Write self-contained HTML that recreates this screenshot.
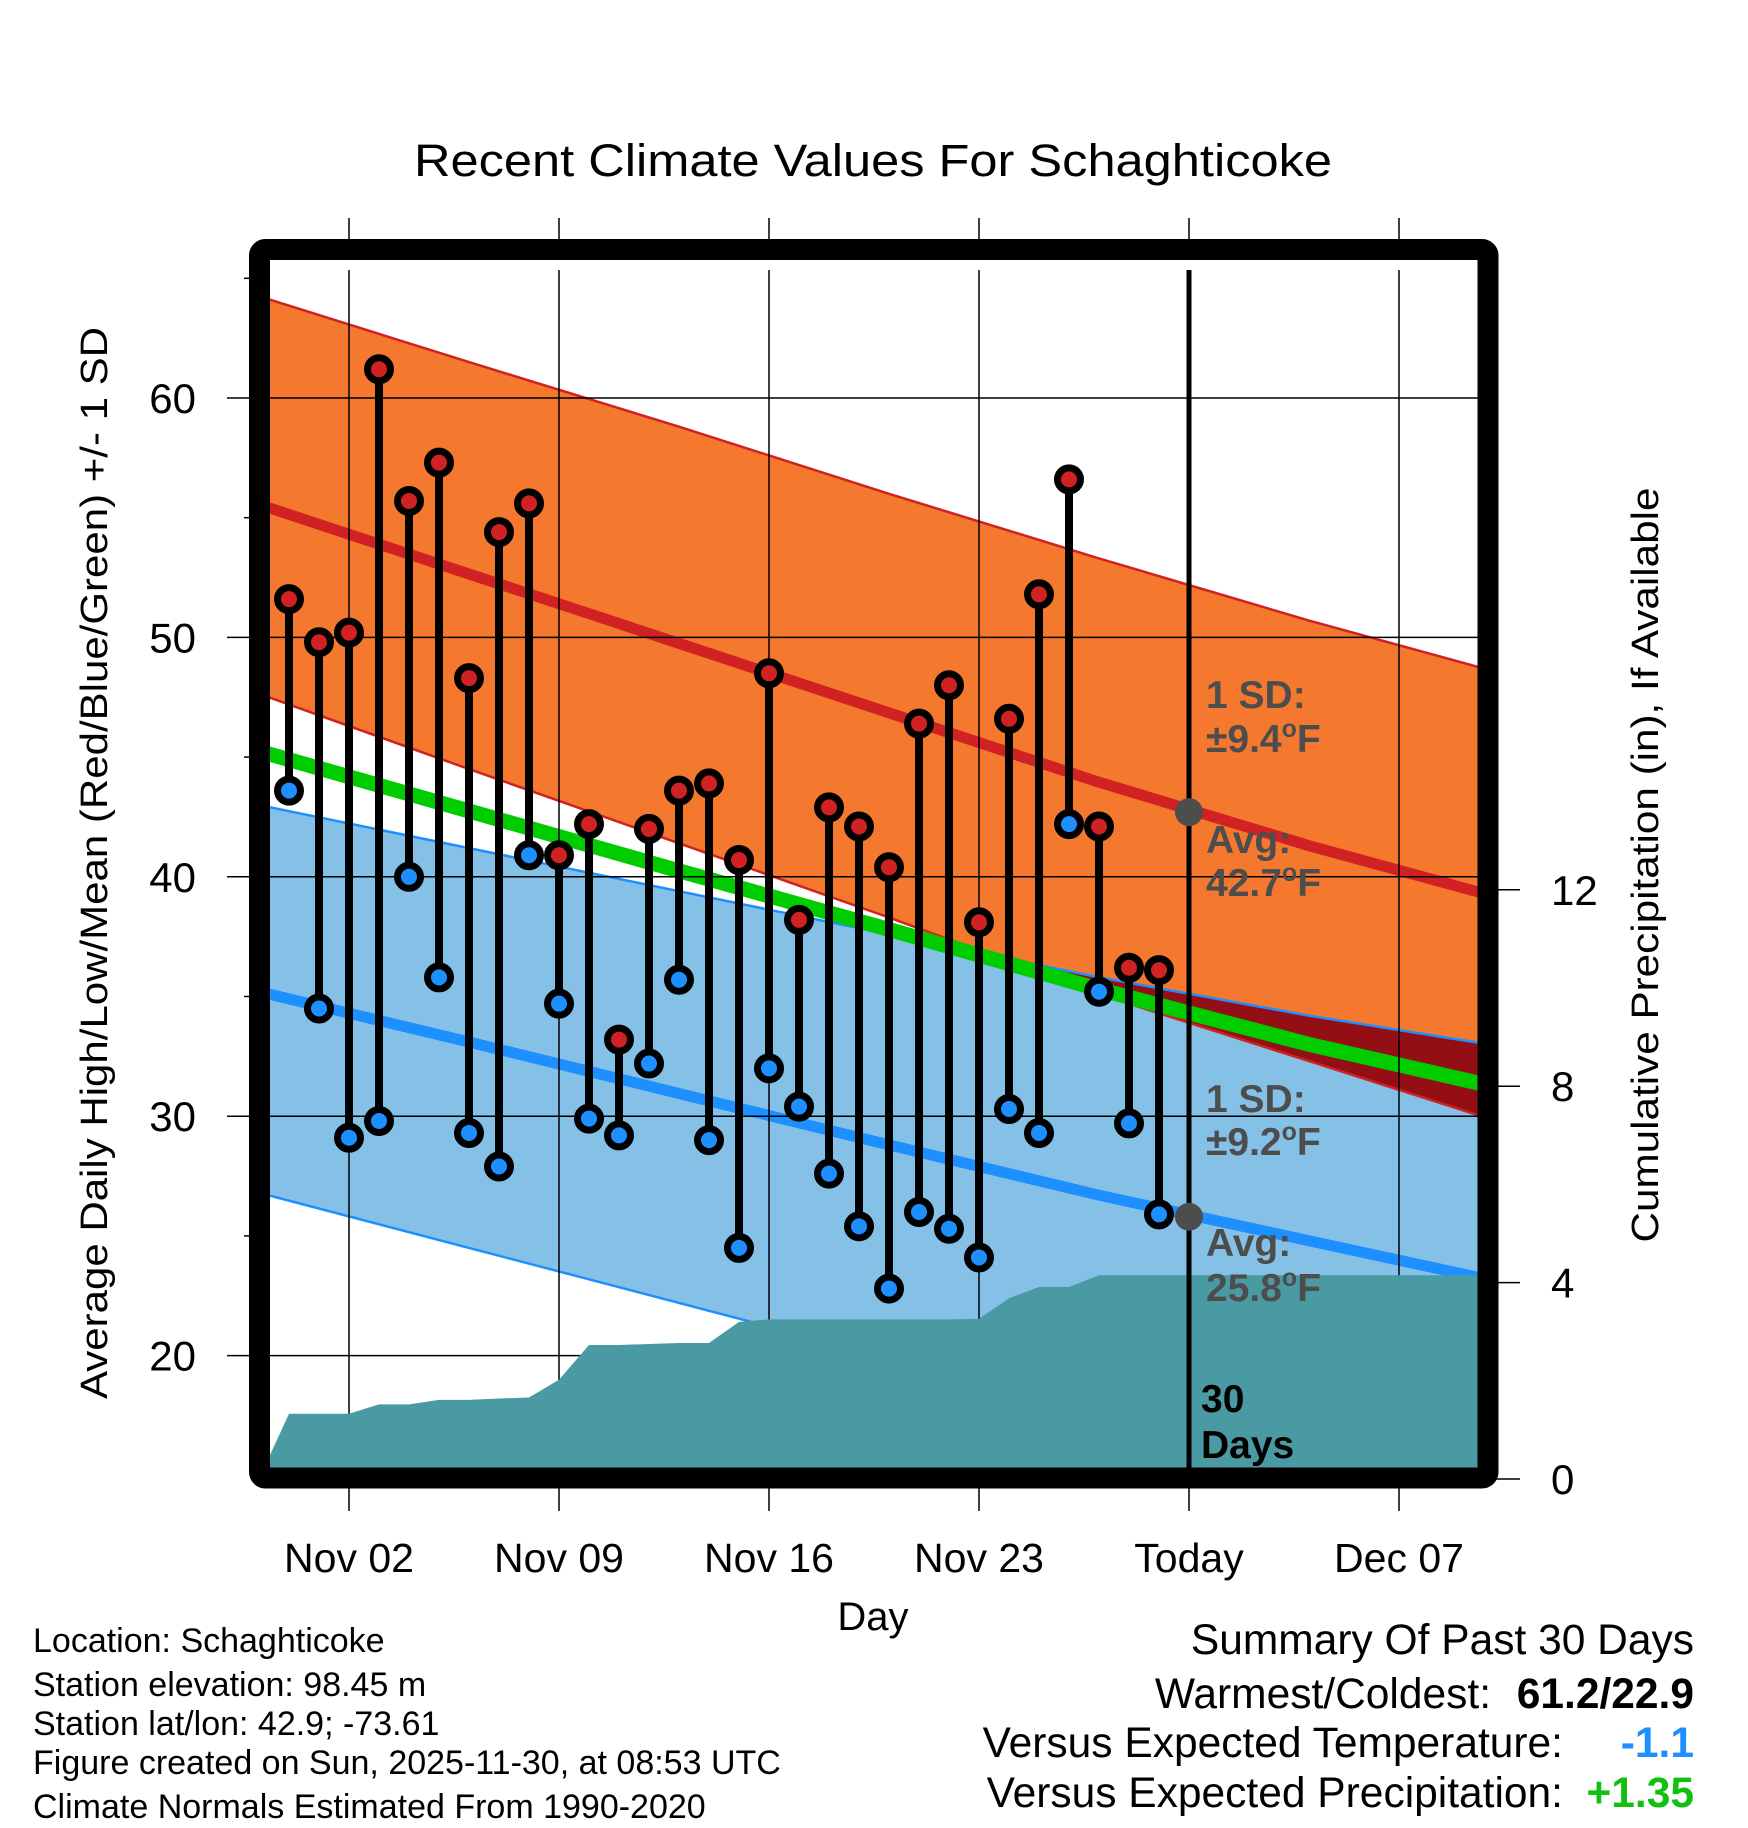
<!DOCTYPE html>
<html><head><meta charset="utf-8">
<style>
html,body{margin:0;padding:0;background:#fff;}
svg{display:block;font-family:"Liberation Sans",Arial,sans-serif;}
</style></head>
<body>
<svg id="chart" width="1748" height="1828" viewBox="0 0 1748 1828" xmlns="http://www.w3.org/2000/svg">
<defs><clipPath id="plotclip"><rect x="270" y="270" width="1209" height="1199"/></clipPath></defs>
<text x="873" y="176" font-size="45" text-anchor="middle" textLength="918" lengthAdjust="spacingAndGlyphs">Recent Climate Values For Schaghticoke</text>
<g id="plot" clip-path="url(#plotclip)"></g>
<g id="axes"></g>
<text transform="translate(107,863) rotate(-90)" font-size="38" text-anchor="middle" textLength="1072" lengthAdjust="spacingAndGlyphs">Average Daily High/Low/Mean (Red/Blue/Green) +/- 1 SD</text>
<text transform="translate(1658,865) rotate(-90)" font-size="38" text-anchor="middle" textLength="755" lengthAdjust="spacingAndGlyphs">Cumulative Precipitation (in), If Available</text>
<text x="873" y="1630" font-size="40" text-anchor="middle">Day</text>
<g font-size="34">
<text x="33" y="1652">Location: Schaghticoke</text>
<text x="33" y="1696">Station elevation: 98.45 m</text>
<text x="33" y="1735">Station lat/lon: 42.9; -73.61</text>
<text x="33" y="1774">Figure created on Sun, 2025-11-30, at 08:53 UTC</text>
<text x="33" y="1818">Climate Normals Estimated From 1990-2020</text>
</g>
<g font-size="42.5" text-anchor="end">
<text x="1694" y="1654">Summary Of Past 30 Days</text>
<text x="1491" y="1708">Warmest/Coldest:</text>
<text x="1694" y="1708" font-weight="bold">61.2/22.9</text>
<text x="1563" y="1757">Versus Expected Temperature:</text>
<text x="1694" y="1757" font-weight="bold" fill="#1e8fff">-1.1</text>
<text x="1563" y="1807">Versus Expected Precipitation:</text>
<text x="1694" y="1807" font-weight="bold" fill="#11c011">+1.35</text>
</g>
</svg>
<script>
// ---- data ----
const obsDays = [-1,0,1,2,3,4,5,6,7,8,9,10,11,12,13,14,15,16,17,18,19,20,21,22,23,24,25,26,27,28]; // days from Nov 1
const highs = [51.6,49.8,50.2,61.2,55.7,57.3,48.3,54.4,55.6,40.9,42.2,33.2,42.0,43.6,43.9,40.7,48.5,38.2,42.9,42.1,40.4,46.4,48.0,38.1,46.6,51.8,56.6,42.1,36.2,36.1];
const lows  = [43.6,34.5,29.1,29.8,40.0,35.8,29.3,27.9,40.9,34.7,29.9,29.2,32.2,35.7,29.0,24.5,32.0,30.4,27.6,25.4,22.8,26.0,25.3,24.1,30.3,29.3,42.2,35.2,29.7,25.9];
const precipDays = [-2,-1,0,1,2,3,4,5,6,7,8,9,10,11,12,13,14,15,16,17,18,19,20,21,22,23,24,25,26,27,28,41];
const precip = [0,1.33,1.33,1.33,1.52,1.52,1.61,1.61,1.64,1.66,2.02,2.73,2.73,2.75,2.77,2.77,3.2,3.25,3.25,3.25,3.25,3.25,3.25,3.25,3.26,3.68,3.91,3.91,4.15,4.15,4.15,4.15];
const normDays = [-2,5,12,19,26,33,40];
const hiAvg   = [55.55,52.65,49.75,46.85,43.95,41.3,38.9];
const hiPlus  = [64.25,61.5,58.8,56.0,53.3,50.7,48.3];
const hiMinus = [47.65,44.5,41.4,38.3,35.1,32.3,29.5];
const loAvg   = [35.2,33.1,30.95,28.8,26.7,24.8,22.9];
const loPlus  = [43.0,41.2,39.4,37.6,35.8,34.2,32.8];
const loMinus = [26.8,24.5,22.2,19.9,17.6,15.6,13.8];
const meanAvg = [45.25,42.75,40.25,37.8,35.3,33.0,31.0];
const xTickDays = [1,8,15,22,29,36];
const xTickLabels = ["Nov 02","Nov 09","Nov 16","Nov 23","Today","Dec 07"];
const yTicks = [20,30,40,50,60];
const yMinor = [25,35,45,55,65];
const y2Ticks = [0,4,8,12];
const todayDay = 29;
const todayHi = 42.7, todayLo = 25.8;

// ---- scales ----
const X0 = 349 - 30; // Nov 1
const xs = d => X0 + d*30;
const ys = v => 398 + (60 - v)*23.94;
const yp = p => 1479 - p*49.1;
const NS = "http://www.w3.org/2000/svg";
function mk(tag, attrs, parent){const e=document.createElementNS(NS,tag);for(const k in attrs)e.setAttribute(k,attrs[k]);parent.appendChild(e);return e;}
const plot = document.getElementById('plot');
const axes = document.getElementById('axes');
const pts = (days, vals) => days.map((d,i)=>xs(d).toFixed(1)+','+ys(vals[i]).toFixed(1));

// bands
let el = mk('polygon',{points:pts(normDays,hiPlus).concat(pts(normDays,hiMinus).reverse()).join(' '),fill:'#f4792e'},plot);


el = mk('polygon',{points:pts(normDays,loPlus).concat(pts(normDays,loMinus).reverse()).join(' '),fill:'#85c1e6'},plot);


// overlap
const ovTop = normDays.map((d,i)=>Math.min(loPlus[i],hiPlus[i]));
const ovBot = normDays.map((d,i)=>Math.min(Math.max(hiMinus[i],loMinus[i]),ovTop[i]));
el = mk('polygon',{points:pts(normDays,ovTop).concat(pts(normDays,ovBot).reverse()).join(' '),fill:'#940f15'},plot);


// edges
[[hiPlus,'#d02222','high-plus-sd-line'],[hiMinus,'#d02222','high-minus-sd-line'],[loPlus,'#1e8fff','low-plus-sd-line'],[loMinus,'#1e8fff','low-minus-sd-line']].forEach(a=>{
  const l = mk('polyline',{points:pts(normDays,a[0]).join(' '),fill:'none',stroke:a[1],'stroke-width':2.5},plot);
  
  
});
// avg lines
el = mk('polyline',{points:pts(normDays,meanAvg).join(' '),fill:'none',stroke:'#00cc00','stroke-width':15},plot);


el = mk('polyline',{points:pts(normDays,hiAvg).join(' '),fill:'none',stroke:'#d02222','stroke-width':11},plot);


el = mk('polyline',{points:pts(normDays,loAvg).join(' '),fill:'none',stroke:'#1e8fff','stroke-width':11},plot);


// grid
yTicks.forEach(v=>{
  const g = mk('line',{x1:270,x2:1479,y1:ys(v),y2:ys(v),stroke:'#000','stroke-width':1.5},plot);
  
  
});
xTickDays.forEach(d=>{
  const g = mk('line',{x1:xs(d),x2:xs(d),y1:270,y2:1469,stroke:'#000','stroke-width':1.5},plot);
  
  
});
// precip area
const pp = precipDays.map((d,i)=>xs(d).toFixed(1)+','+yp(precip[i]).toFixed(1));
pp.push(xs(precipDays[precipDays.length-1])+','+yp(0), xs(precipDays[0])+','+yp(0));
el = mk('polygon',{points:pp.join(' '),fill:'#4a9aa3'},plot);


// today line
el = mk('line',{x1:xs(todayDay),x2:xs(todayDay),y1:270,y2:1469,stroke:'#000','stroke-width':5},plot);


// today markers
[[todayHi,'today-high-normal-marker'],[todayLo,'today-low-normal-marker']].forEach(a=>{
  const c = mk('circle',{cx:xs(todayDay),cy:ys(a[0]),r:14,fill:'#4d4d4d'},plot);
  
  
});
// stems and dots
obsDays.forEach((d,i)=>{
  const s = mk('line',{x1:xs(d),x2:xs(d),y1:ys(highs[i]),y2:ys(lows[i]),stroke:'#000','stroke-width':8},plot);
  
  
});
obsDays.forEach((d,i)=>{
  const h = mk('circle',{cx:xs(d),cy:ys(highs[i]),r:11.5,fill:'#d02222',stroke:'#000','stroke-width':7},plot);
  
  
  const l = mk('circle',{cx:xs(d),cy:ys(lows[i]),r:11.5,fill:'#1e8fff',stroke:'#000','stroke-width':7},plot);
  
  
});
// annotations
function ann(x,y,txt,name,fill){
  const t = mk('text',{x:x,y:y,'font-size':39,'font-weight':'bold',fill:fill},plot);
  t.innerHTML = txt;
  
  
}
const G='#4d4d4d';
const deg = '<tspan font-size="25" dy="-15">o</tspan><tspan dy="15">F</tspan>';
ann(1206,708,'1 SD:','high-sd-label',G);
ann(1206,752,'±9.4'+deg,'high-sd-value',G);
ann(1206,853,'Avg:','high-avg-label',G);
ann(1206,896,'42.7'+deg,'high-avg-value',G);
ann(1206,1112,'1 SD:','low-sd-label',G);
ann(1206,1155,'±9.2'+deg,'low-sd-value',G);
ann(1206,1256,'Avg:','low-avg-label',G);
ann(1206,1301,'25.8'+deg,'low-avg-value',G);
ann(1201,1412,'30','days-count','#000');
ann(1201,1458,'Days','days-label','#000');

// axes: frame
el = mk('rect',{x:259.5,y:249.5,width:1228.5,height:1228.5,fill:'none',stroke:'#000','stroke-width':21,'stroke-linejoin':'round',rx:6},axes);


yTicks.forEach(v=>{
  const t = mk('line',{x1:227,x2:252,y1:ys(v),y2:ys(v),stroke:'#000','stroke-width':1.5},axes);
  
  
  const lb = mk('text',{x:196,y:ys(v)+15,'font-size':42,'text-anchor':'end'},axes);
  lb.textContent = v;
  
  
});
yMinor.forEach(v=>{
  const t = mk('line',{x1:244,x2:252,y1:ys(v),y2:ys(v),stroke:'#000','stroke-width':1.5},axes);
  
  
});
xTickDays.forEach((d,i)=>{
  const a = mk('line',{x1:xs(d),x2:xs(d),y1:218,y2:242,stroke:'#000','stroke-width':1.5},axes);
  
  
  const b = mk('line',{x1:xs(d),x2:xs(d),y1:1486,y2:1511,stroke:'#000','stroke-width':1.5},axes);
  
  
  const lb = mk('text',{x:xs(d),y:1572,'font-size':41,'text-anchor':'middle'},axes);
  lb.textContent = xTickLabels[i];
  
  
});
y2Ticks.forEach(p=>{
  const t = mk('line',{x1:1495,x2:1520,y1:yp(p),y2:yp(p),stroke:'#000','stroke-width':1.5},axes);
  
  
  const lb = mk('text',{x:1551,y:yp(p)+15,'font-size':42},axes);
  lb.textContent = p;
  
  
});
</script>
</body></html>
